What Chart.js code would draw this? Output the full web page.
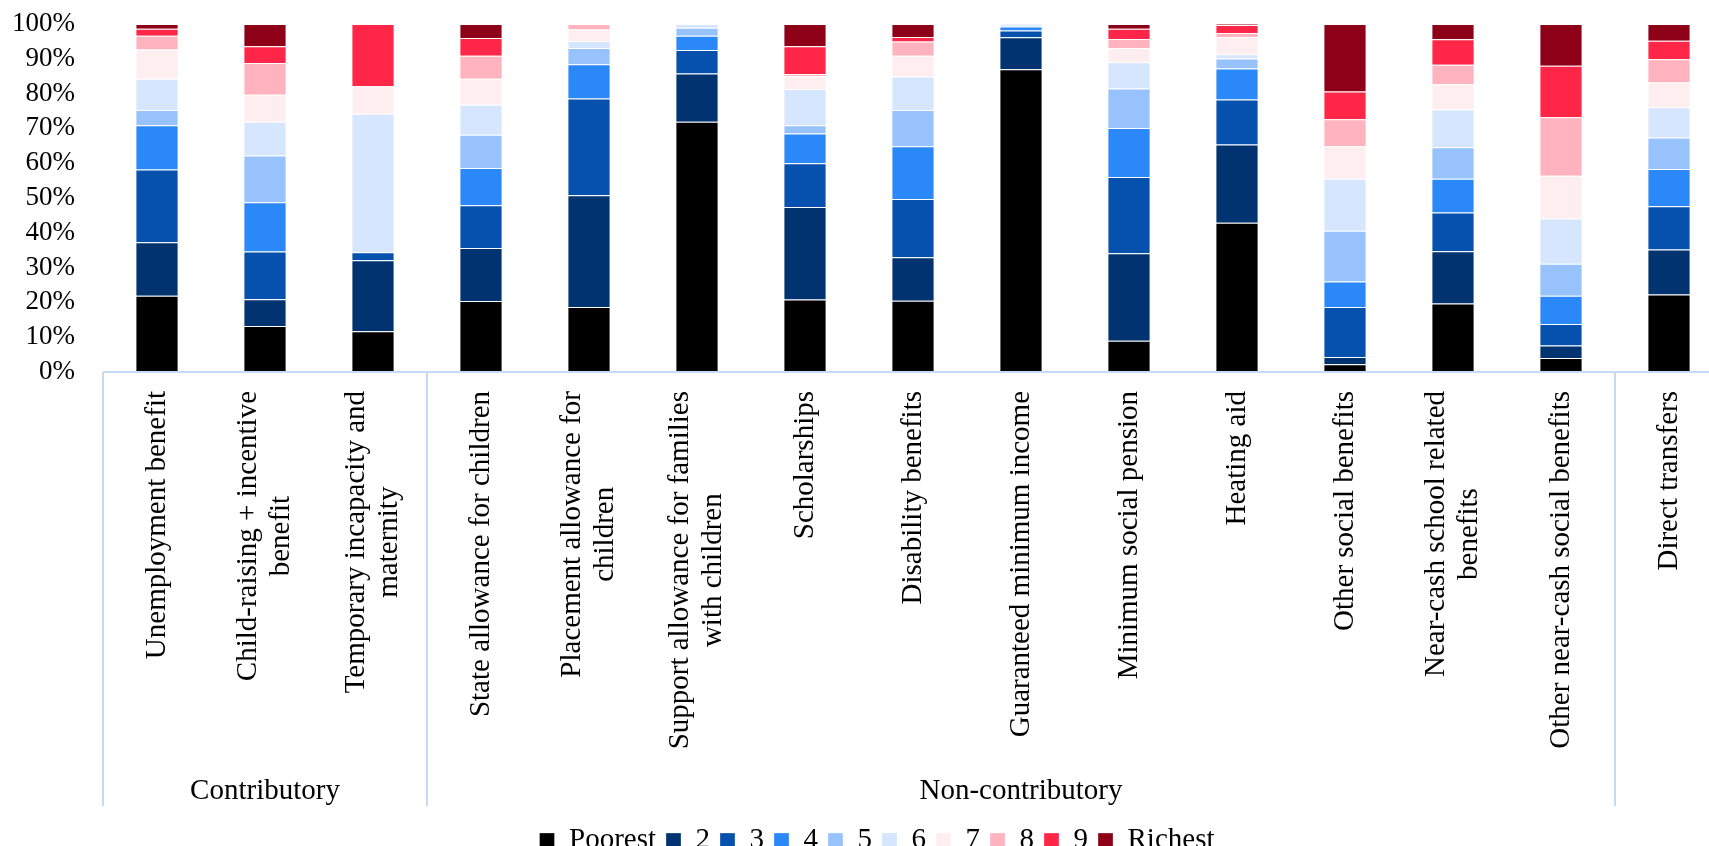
<!DOCTYPE html>
<html>
<head>
<meta charset="utf-8">
<script src="https://cdn.jsdelivr.net/npm/chart.js@4/dist/chart.umd.min.js"></script>
<style>
html, body { margin: 0; padding: 0; overflow: hidden; background: #fff; }
#contenedor { width: 1725px; height: 865px; }
</style>
</head>
<body>
<div id="contenedor"><canvas id="grafica" width="1725" height="865"></canvas></div>
<script>
const $grafica = document.querySelector("#grafica");

// categorias (con saltos de linea como en el original)
const etiquetas = [
    ["Unemployment benefit"],
    ["Child-raising + incentive", "benefit"],
    ["Temporary incapacity and", "maternity"],
    ["State allowance for children"],
    ["Placement allowance for", "children"],
    ["Support allowance for families", "with children"],
    ["Scholarships"],
    ["Disability benefits"],
    ["Guaranteed minimum income"],
    ["Minimum social pension"],
    ["Heating aid"],
    ["Other social benefits"],
    ["Near-cash school related", "benefits"],
    ["Other near-cash social benefits"],
    ["Direct transfers"]
];
const grupos = ["Contributory", "Non-contributory", ""];
const inicioGrupo = [0, 3, 14];
const finGrupo = [2, 13, 14];

const deciles = ["Poorest", "2", "3", "4", "5", "6", "7", "8", "9", "Richest"];
const colores = ['#000000', '#00336F', '#0551AD', '#2A88F8', '#97C2FC', '#D5E6FE', '#FFEEF0', '#FFB3BE', '#FF2648', '#8E0018'];

const pobre = [21.9, 13.2, 11.7, 20.4, 18.7, 71.9, 20.8, 20.5, 87.0, 9.0, 42.9, 2.2, 19.7, 4.0, 22.3];
const d2 = [15.4, 7.7, 20.4, 15.2, 32.1, 13.9, 26.6, 12.5, 9.2, 25.1, 22.5, 2.1, 15.0, 3.6, 12.9];
const d3 = [20.9, 13.7, 2.3, 12.3, 27.8, 6.7, 12.6, 16.7, 1.9, 21.9, 12.9, 14.4, 11.1, 6.2, 12.4];
const d4 = [12.7, 14.2, 0, 10.7, 9.8, 4.1, 8.5, 15.2, 1.2, 14.1, 8.9, 7.3, 9.7, 8.1, 10.7];
const d5 = [4.4, 13.4, 0, 9.6, 4.7, 2.3, 2.4, 10.4, 0.4, 11.4, 2.9, 14.6, 9.1, 9.2, 9.1];
const d6 = [9.0, 9.7, 39.8, 8.6, 2.0, 1.1, 10.4, 9.6, 0.3, 7.5, 1.2, 14.9, 10.8, 13.0, 8.7];
const d7 = [8.4, 7.8, 7.9, 7.5, 3.3, 0, 3.7, 6.0, 0, 4.1, 4.9, 9.4, 7.3, 12.3, 7.1];
const d8 = [3.9, 9.1, 0, 6.6, 1.6, 0, 0.6, 4.1, 0, 2.6, 1.2, 7.7, 5.6, 16.8, 6.7];
const d9 = [2.0, 4.8, 17.9, 5.1, 0, 0, 8.0, 1.3, 0, 2.9, 2.3, 8.0, 7.3, 14.8, 5.3];
const rico = [1.4, 6.4, 0, 4.0, 0, 0, 6.4, 3.7, 0, 1.4, 0.3, 19.4, 4.4, 12.0, 4.8];

const series = [pobre, d2, d3, d4, d5, d6, d7, d8, d9, rico];
const yTicks = [0, 10, 20, 30, 40, 50, 60, 70, 80, 90, 100];

const fuente = '"Liberation Serif", "Times New Roman", serif';
Chart.defaults.font.family = fuente;
Chart.defaults.color = '#000';

// eje de categorias en dos niveles y etiquetas del eje Y, dibujados a mano
const ejeAgrupado = {
    id: 'ejeAgrupado',
    afterDraw(chart) {
        const ctx = chart.ctx;
        const x = chart.scales.x;
        const y = chart.scales.y;
        const abajo = chart.chartArea.bottom;
        const paso = x.getPixelForValue(1) - x.getPixelForValue(0);
        ctx.save();
        ctx.strokeStyle = '#c5daf4';
        ctx.lineWidth = 2;
        ctx.beginPath();
        ctx.moveTo(x.left, abajo);
        ctx.lineTo(x.right, abajo);
        grupos.forEach((g, i) => {
            const izq = x.getPixelForValue(inicioGrupo[i]) - paso / 2;
            ctx.moveTo(izq, abajo);
            ctx.lineTo(izq, abajo + 434);
            if (i === grupos.length - 1) {
                const der = x.getPixelForValue(finGrupo[i]) + paso / 2;
                ctx.moveTo(der, abajo);
                ctx.lineTo(der, abajo + 434);
            }
        });
        ctx.stroke();

        ctx.fillStyle = '#000';

        // porcentajes del eje Y
        ctx.font = '27px ' + fuente;
        ctx.textAlign = 'right';
        ctx.textBaseline = 'middle';
        y.ticks.forEach(t => {
            ctx.fillText(t.value + '%', y.right - 28, y.getPixelForValue(t.value));
        });

        ctx.font = '29px ' + fuente;
        ctx.textAlign = 'center';
        etiquetas.forEach((lineas, i) => {
            const cx = x.getPixelForValue(i);
            const ancho = Math.max(...lineas.map(l => ctx.measureText(l).width));
            ctx.save();
            ctx.translate(cx, abajo + 19 + ancho / 2);
            ctx.rotate(-Math.PI / 2);
            lineas.forEach((l, k) => {
                ctx.fillText(l, 0, (k - (lineas.length - 1) / 2) * 33);
            });
            ctx.restore();
        });

        grupos.forEach((g, i) => {
            if (!g) return;
            const izq = x.getPixelForValue(inicioGrupo[i]) - paso / 2;
            const der = x.getPixelForValue(finGrupo[i]) + paso / 2;
            ctx.fillText(g, (izq + der) / 2, abajo + 419);
        });
        ctx.restore();
    }
};

new Chart($grafica, {
    type: 'bar',
    data: {
        labels: etiquetas.map(l => l.join(' ')),
        datasets: deciles.map((d, i) => ({
            label: d,
            data: series[i],
            backgroundColor: colores[i],
            borderColor: 'rgba(255,255,255,0.3)',
            borderWidth: 1,
            barPercentage: 0.4,
            categoryPercentage: 1.0
        }))
    },
    options: {
        responsive: false,
        animation: false,
        layout: { padding: { top: 24, right: 2, left: 31, bottom: 0 } },
        plugins: {
            tooltip: { enabled: false },
            legend: {
                position: 'bottom',
                labels: {
                    boxWidth: 15,
                    boxHeight: 15,
                    padding: 10,
                    color: '#000',
                    font: { size: 29 }
                }
            }
        },
        scales: {
            x: {
                stacked: true,
                grid: { display: false },
                border: { display: false },
                ticks: { display: false },
                afterFit(s) { s.height = 444; }
            },
            y: {
                stacked: true,
                min: 0,
                max: 100,
                grid: { display: false },
                border: { display: false },
                afterBuildTicks(s) { s.ticks = yTicks.map(v => ({ value: v })); },
                ticks: { display: false },
                afterFit(s) { s.width = 72; }
            }
        }
    },
    plugins: [ejeAgrupado]
});
</script>
</body>
</html>
